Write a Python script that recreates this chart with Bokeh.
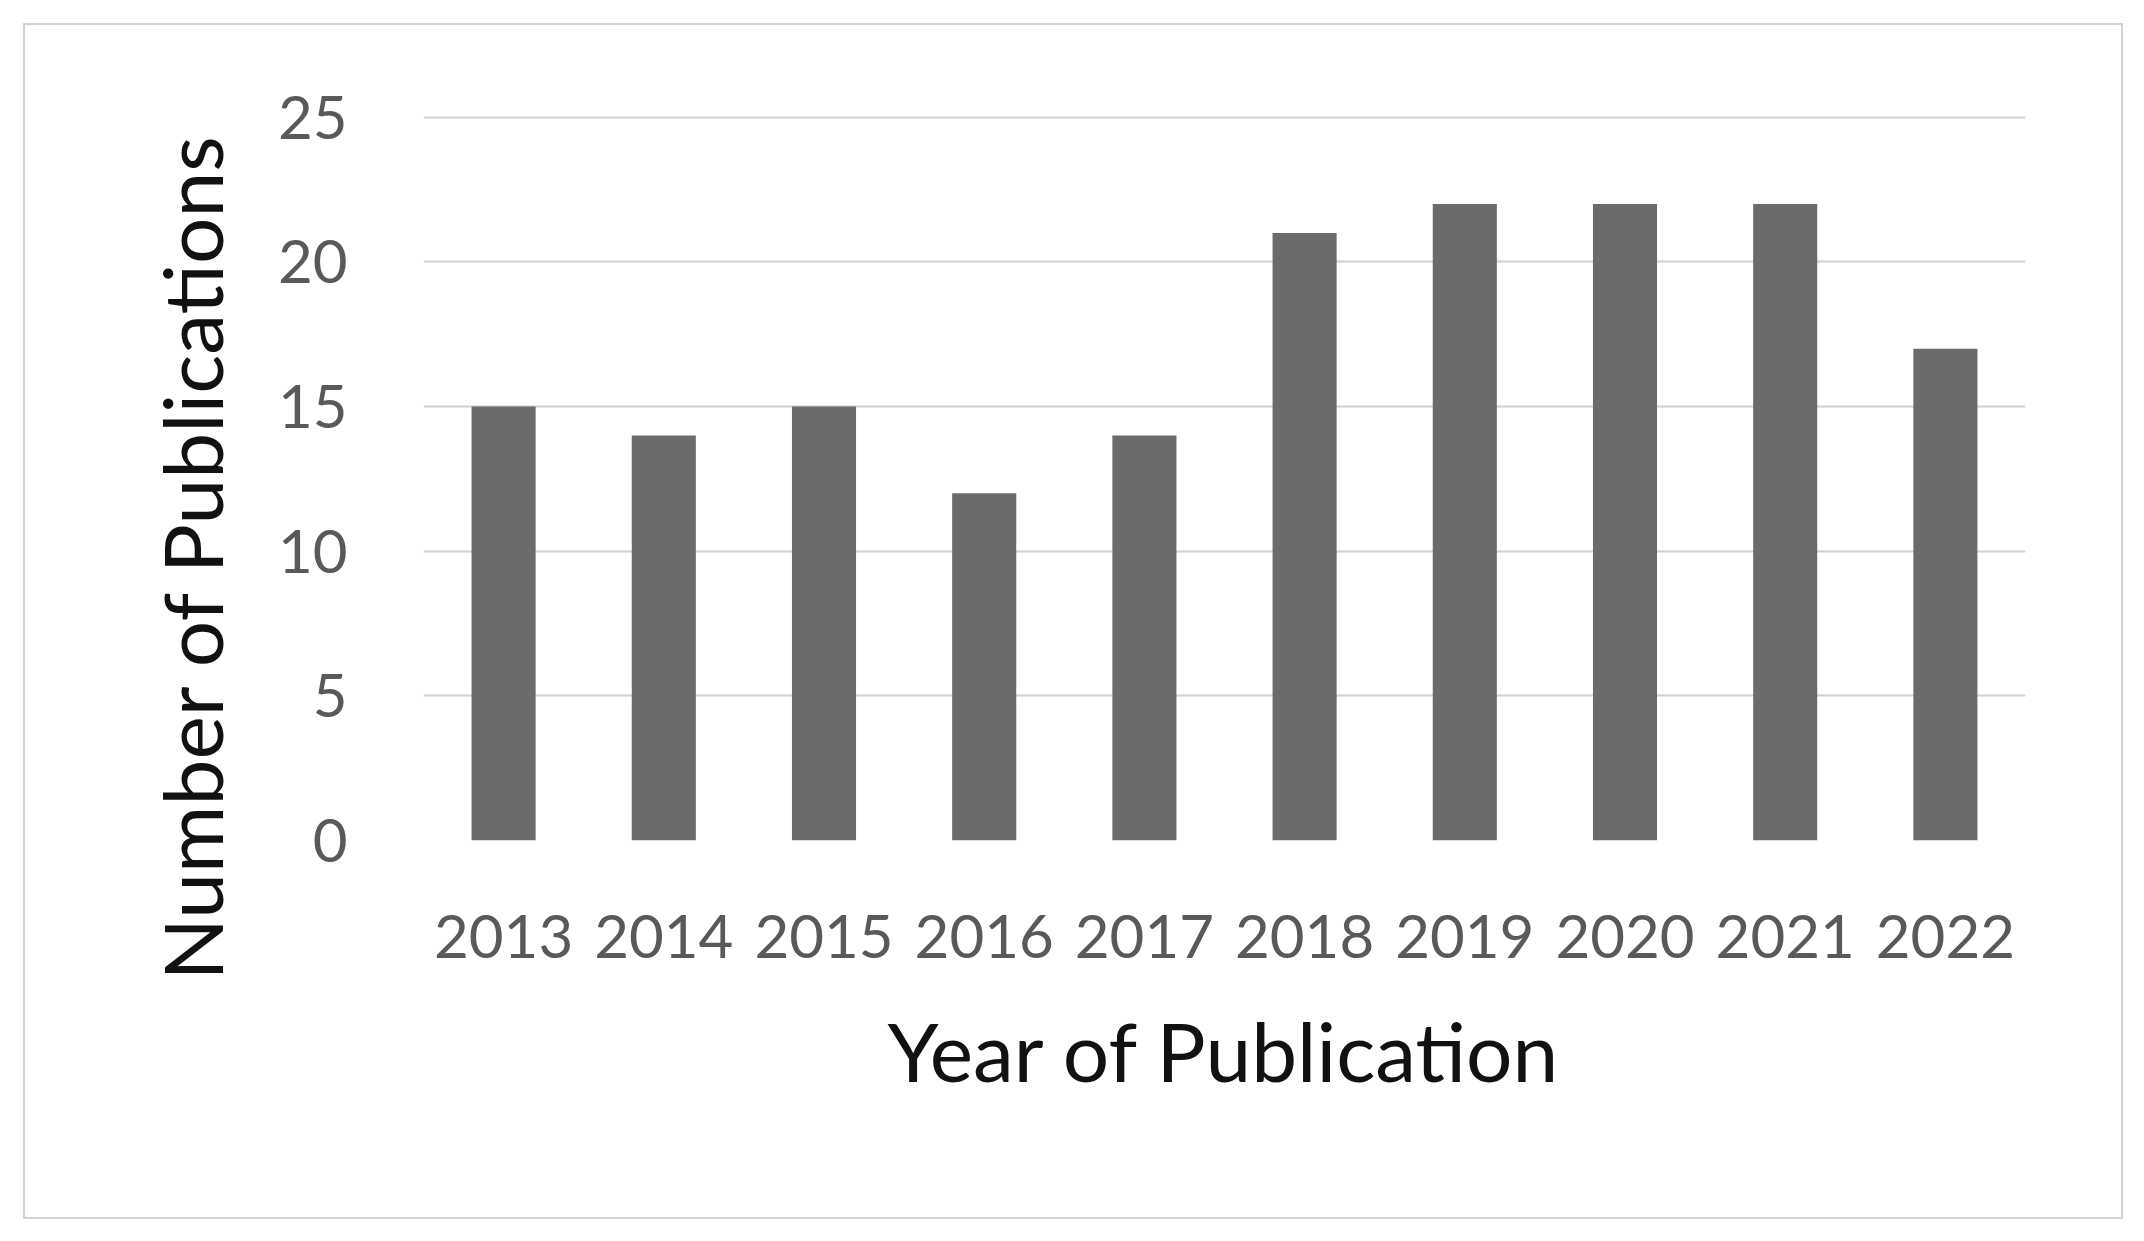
from bokeh.plotting import figure
from bokeh.models import Range1d, FixedTicker, Title
from bokeh.embed import file_html
from bokeh.resources import INLINE

years = ["2013", "2014", "2015", "2016", "2017", "2018", "2019", "2020", "2021", "2022"]
publications = [15, 14, 15, 12, 14, 21, 22, 22, 22, 17]
y_ticks = [0, 5, 10, 15, 20, 25]

FONT = "Lato"

p = figure(
    x_range=years,
    y_range=Range1d(0, 25.06),
    width=2100,
    height=1196,
    output_backend="svg",
    toolbar_location=None,
    min_border_left=398,
    min_border_right=100,
    min_border_top=90,
    min_border_bottom=381,
    margin=(23, 0, 0, 23),
    styles={"border": "2px solid #d2d2d2"},
)

p.vbar(x=years, top=publications, width=0.4, fill_color="#6b6b6b", line_color=None)

p.outline_line_color = None
p.background_fill_color = "white"
p.border_fill_color = "white"

p.xgrid.grid_line_color = None
p.ygrid.grid_line_color = "#d0d0d0"
p.ygrid.grid_line_width = 2
p.yaxis.ticker = FixedTicker(ticks=y_ticks)

for ax in (p.xaxis, p.yaxis):
    ax.axis_line_color = None
    ax.major_tick_line_color = None
    ax.minor_tick_line_color = None
    ax.major_label_text_font = FONT
    ax.major_label_text_font_size = "60px"
    ax.major_label_text_color = "#595959"
    ax.axis_label_text_font = FONT
    ax.axis_label_text_font_size = "82px"
    ax.axis_label_text_font_style = "normal"
    ax.axis_label_text_color = "#111111"

p.xaxis.major_label_standoff = 68
p.yaxis.major_label_standoff = 70
p.xaxis.axis_label = "Year of Publication"
p.xaxis.axis_label_standoff = 40

ytitle = Title(
    text="Number of Publications",
    align="left",
    offset=-140,
    standoff=70,
    text_font=FONT,
    text_font_size="82px",
    text_font_style="normal",
    text_color="#111111",
)
p.add_layout(ytitle, "left")

open("out.html", "w").write(file_html(p, INLINE))
